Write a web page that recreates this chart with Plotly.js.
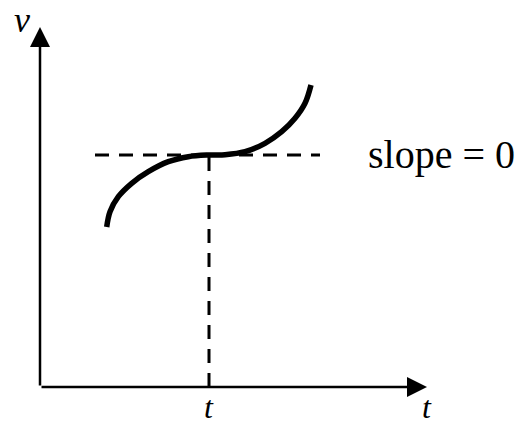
<!DOCTYPE html>
<html>
<head>
<meta charset="utf-8">
<script src="https://cdn.plot.ly/plotly-3.0.1.min.js"></script>
<style>html,body{margin:0;padding:0;background:#fff;}#chart{width:516px;height:424px;}</style>
</head>
<body>
<div id="chart"></div>
<script>
// Curve v(t) (arbitrary units, origin at the axes corner)
const curveT = [66.7, 70, 78.3, 91.7, 108.3, 128.3, 148.3, 169, 185, 205, 225, 241.7, 255, 265, 271];
const curveV = [160, 175.3, 190.3, 203.7, 215.3, 225.3, 230.3, 232, 232.3, 235.3, 243.7, 255.3, 268.7, 283.7, 302];
// Tangent (slope = 0) and the marked instant t
const tangentT = [55, 280];
const tangentV = [232, 232];
const markT = [169, 169];
const markV = [0, 232];
// Axis extents
const axisT = [0, 387];
const axisV = [0, 360];
// Labels
const labelV = "v";
const labelT = "t";
const labelSlope = "slope = 0";

const serif = "Liberation Serif, Times New Roman, serif";

const traces = [
  {x: tangentT, y: tangentV, mode: "lines", line: {color: "#000", width: 3, dash: "14px,10px"}, hoverinfo: "skip"},
  {x: markT, y: markV, mode: "lines", line: {color: "#000", width: 3, dash: "14px,10px"}, hoverinfo: "skip"},
  {x: curveT, y: curveV, mode: "lines", line: {color: "#000", width: 5.5, shape: "spline", smoothing: 1}, hoverinfo: "skip"}
];

const layout = {
  width: 516, height: 424,
  margin: {l: 0, r: 0, t: 0, b: 0},
  paper_bgcolor: "#fff", plot_bgcolor: "#fff",
  showlegend: false,
  xaxis: {range: [-40, 476], visible: false, fixedrange: true},
  yaxis: {range: [-37, 387], visible: false, fixedrange: true},
  annotations: [
    {x: axisT[1], y: axisV[0], ax: axisT[0], ay: axisV[0], xref: "x", yref: "y", axref: "x", ayref: "y",
     text: "", showarrow: true, arrowhead: 2, arrowsize: 1.6, arrowwidth: 2.5, arrowcolor: "#000"},
    {x: axisT[0], y: axisV[1], ax: axisT[0], ay: axisV[0], xref: "x", yref: "y", axref: "x", ayref: "y",
     text: "", showarrow: true, arrowhead: 2, arrowsize: 1.6, arrowwidth: 2.5, arrowcolor: "#000"},
    {x: -18, y: 367, xref: "x", yref: "y", text: labelV, showarrow: false,
     font: {family: serif, size: 36, color: "#000", style: "italic"}},
    {x: markT[0], y: -20, xref: "x", yref: "y", text: labelT, showarrow: false,
     font: {family: serif, size: 32, color: "#000", style: "italic"}},
    {x: axisT[1], y: -20, xref: "x", yref: "y", text: labelT, showarrow: false,
     font: {family: serif, size: 32, color: "#000", style: "italic"}},
    {x: 326, y: 233, xref: "x", yref: "y", text: labelSlope, showarrow: false, xanchor: "left",
     font: {family: serif, size: 40, color: "#000"}}
  ]
};

Plotly.newPlot("chart", traces, layout, {staticPlot: true, displayModeBar: false});
</script>
</body>
</html>
